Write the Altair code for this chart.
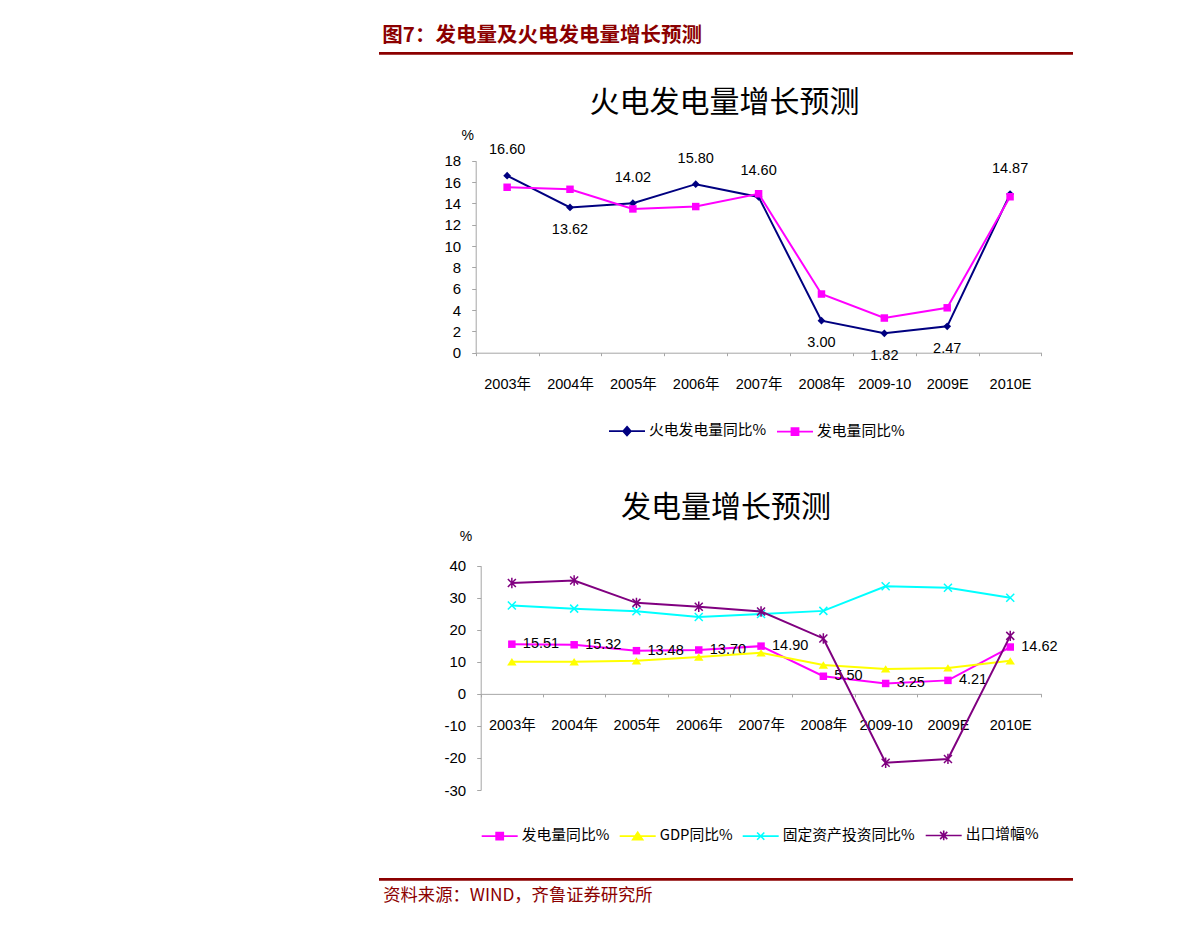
import altair as alt
import pandas as pd

# ---------------- data ----------------
categories = ["2003年", "2004年", "2005年", "2006年", "2007年", "2008年", "2009-10", "2009E", "2010E"]
thermal_yoy = [16.60, 13.62, 14.02, 15.80, 14.60, 3.00, 1.82, 2.47, 14.87]
power_yoy = [15.51, 15.32, 13.48, 13.70, 14.90, 5.50, 3.25, 4.21, 14.62]
gdp_yoy = [10.0, 10.0, 10.3, 11.5, 12.8, 9.0, 7.8, 8.1, 10.3]
fai_yoy = [27.6, 26.6, 25.8, 24.0, 24.9, 25.9, 33.6, 33.1, 30.0]
export_growth = [34.6, 35.4, 28.4, 27.2, 25.7, 17.3, -21.5, -20.3, 18.1]

series1_names = ["火电发电量同比%", "发电量同比%"]
series2_names = ["发电量同比%", "GDP同比%", "固定资产投资同比%", "出口增幅%"]

header_text = "图7：发电量及火电发电量增长预测"
title1_text = "火电发电量增长预测"
title2_text = "发电量增长预测"
source_text = "资料来源：WIND，齐鲁证券研究所"
unit_text = "%"

y1_ticks = [0, 2, 4, 6, 8, 10, 12, 14, 16, 18]
y2_ticks = [-30, -20, -10, 0, 10, 20, 30, 40]

# ---------------- styles ----------------
NUM_FONT = "Liberation Sans, Noto Sans CJK SC"
CJK_FONT = "Noto Sans CJK SC"
DARK_RED = "#8B0000"
AXIS_GRAY = "#A6A6A6"
W, H = 1170, 900

color_of = {
    "火电发电量同比%": "#000080",
    "发电量同比%": "#FF00FF",
    "GDP同比%": "#FFFF00",
    "固定资产投资同比%": "#00FFFF",
    "出口增幅%": "#800080",
}
marker_of = {
    "火电发电量同比%": ("M0,-1L1,0L0,1L-1,0Z", 60, True),
    "发电量同比%": ("M-1,-1H1V1H-1Z", 56, True),
    "GDP同比%": ("M0,-1L1.27,1H-1.27Z", 55, True),
    "固定资产投资同比%": ("M-1,-1L1,1M-1,1L1,-1", 64, False),
    "出口增幅%": ("M-1,-1L1,1M-1,1L1,-1M0,-1.3V1.3", 64, False),
}
legend_path_of = {
    "火电发电量同比%": "M-1,0H1M0,-0.25L0.22,0L0,0.25L-0.22,0Z",
    "发电量同比%": "M-1,0H1M-0.2,-0.2H0.2V0.2H-0.2Z",
    "GDP同比%": "M-1,0H1M0,-0.22L0.28,0.2H-0.28Z",
    "固定资产投资同比%": "M-1,0H1M-0.2,-0.2L0.2,0.2M-0.2,0.2L0.2,-0.2",
    "出口增幅%": "M-1,0H1M-0.2,-0.2L0.2,0.2M-0.2,0.2L0.2,-0.2M0,-0.27V0.27",
}

# pixel frames of the two plot areas (view coordinates)
X1_RANGE = [467.7, 1033.5]
Y1_RANGE = [344.7, 152.7]
X2_RANGE = [472.7, 1033.4]
Y2_RANGE = [782.0, 557.7]

# ---------------- tables ----------------
df1 = pd.concat([
    pd.DataFrame({"cat": categories, "series": series1_names[0], "value": thermal_yoy}),
    pd.DataFrame({"cat": categories, "series": series1_names[1], "value": power_yoy}),
], ignore_index=True)
lab1 = pd.DataFrame({"cat": categories, "value": thermal_yoy, "other": power_yoy})
lab1["side"] = ["above" if v >= o - 0.5 else "below" for v, o in zip(thermal_yoy, power_yoy)]

df2 = pd.concat([
    pd.DataFrame({"cat": categories, "series": n, "value": v})
    for n, v in zip(series2_names, [power_yoy, gdp_yoy, fai_yoy, export_growth])
], ignore_index=True)


def x_axis(offset):
    return alt.Axis(orient="bottom", offset=offset, domainColor=AXIS_GRAY, domainWidth=1,
                    tickColor=AXIS_GRAY, tickSize=3, tickBand="extent", labelPadding=22,
                    labelFont=NUM_FONT, labelFontSize=14.5, labelColor="black",
                    labelAngle=0, labelOverlap=False, grid=False, title=None)


def y_axis(values, xpos):
    return alt.Axis(orient="left", offset=-xpos, values=values, domainColor=AXIS_GRAY,
                    domainWidth=1, tickColor=AXIS_GRAY, tickSize=4, labelPadding=11,
                    labelFont=NUM_FONT, labelFontSize=15, labelColor="black",
                    labelExpr="'' + datum.value",
                    labelOverlap=False, grid=False, title=None)


def x_enc(rng, offset):
    return alt.X("cat:N", scale=alt.Scale(type="band", domain=categories, range=rng,
                                          paddingInner=0, paddingOuter=0),
                 axis=x_axis(offset), title=None)


def y_enc(dom, rng, ticks, xpos):
    return alt.Y("value:Q", scale=alt.Scale(domain=dom, range=rng, nice=False, zero=False),
                 axis=y_axis(ticks, xpos), title=None)


def series_layers(df, name, xe, ye):
    path, size, filled = marker_of[name]
    sub = df[df["series"] == name]
    line = alt.Chart(sub).mark_line(color=color_of[name], strokeWidth=2).encode(x=xe, y=ye)
    if filled:
        pts = alt.Chart(sub).mark_point(shape=path, size=size, filled=True, opacity=1,
                                        fill=color_of[name], strokeWidth=0)
    else:
        pts = alt.Chart(sub).mark_point(shape=path, size=size, filled=False, opacity=1,
                                        stroke=color_of[name], strokeWidth=1.5)
    return [line, pts.encode(x=xe, y=ye)]


def legend_layer(df, names, lx, ly):
    leg = alt.Legend(title=None, orient="none", legendX=lx, legendY=ly, direction="horizontal",
                     symbolSize=1296, symbolStrokeWidth=1.6, symbolOpacity=1,
                     labelFont=CJK_FONT, labelFontSize=14.8, labelColor="black",
                     labelOffset=3, columnPadding=6, padding=0, labelLimit=0)
    colors = [color_of[n] for n in names]
    return alt.Chart(df).transform_filter("false").mark_point(size=1296, opacity=1).encode(
        fill=alt.Fill("series:N", scale=alt.Scale(domain=names, range=colors), legend=leg),
        stroke=alt.Stroke("series:N", scale=alt.Scale(domain=names, range=colors), legend=leg),
        shape=alt.Shape("series:N", scale=alt.Scale(domain=names,
                                                    range=[legend_path_of[n] for n in names]),
                        legend=leg),
    )


# ---------------- chart 1 ----------------
x1 = x_enc(X1_RANGE, Y1_RANGE[0] - H)
y1 = y_enc([0, 18], Y1_RANGE, y1_ticks, X1_RANGE[0])

layers1 = []
for n in series1_names:
    layers1 += series_layers(df1, n, x1, y1)
lab_above = alt.Chart(lab1[lab1["side"] == "above"]).mark_text(
    font=NUM_FONT, fontSize=14.5, color="black", baseline="middle", dy=-25.5
).encode(x=x1, y=y1, text=alt.Text("value:Q", format=".2f"))
lab_below = alt.Chart(lab1[lab1["side"] == "below"]).mark_text(
    font=NUM_FONT, fontSize=14.5, color="black", baseline="middle", dy=22.5
).encode(x=x1, y=y1, text=alt.Text("value:Q", format=".2f"))
layers1 += [lab_above, lab_below, legend_layer(df1, series1_names, 600, 404)]
chart1 = alt.layer(*layers1)

# ---------------- chart 2 ----------------
y2_zero_px = Y2_RANGE[0] + (0 - (-30)) / (40 - (-30)) * (Y2_RANGE[1] - Y2_RANGE[0])
x2 = x_enc(X2_RANGE, y2_zero_px - H)
y2 = y_enc([-30, 40], Y2_RANGE, y2_ticks, X2_RANGE[0])

layers2 = []
for i, n in enumerate(series2_names):
    layers2 += series_layers(df2, n, x2, y2)
    if i == 0:
        layers2.append(
            alt.Chart(df2[df2["series"] == n]).mark_text(
                font=NUM_FONT, fontSize=14.5, color="black", align="left",
                baseline="middle", dx=11
            ).encode(x=x2, y=y2, text=alt.Text("value:Q", format=".2f"))
        )
layers2.append(legend_layer(df2, series2_names, 472.7, 808))
chart2 = alt.layer(*layers2)

# ---------------- page decorations ----------------
def deco_text(txt, x, y, size, color="black", weight="normal", align="left", font=CJK_FONT):
    return alt.Chart(pd.DataFrame({"t": [txt]})).mark_text(
        align=align, baseline="middle", font=font, fontSize=size, fontWeight=weight, color=color
    ).encode(text="t:N", x=alt.value(x), y=alt.value(y))


def deco_rule(x0, x1, y, color, width):
    return alt.Chart(pd.DataFrame({"t": [0]})).mark_rule(color=color, strokeWidth=width).encode(
        x=alt.value(x0), x2=alt.value(x1), y=alt.value(y))


deco = alt.layer(
    deco_text(header_text, 374.3, 28, 20.5, DARK_RED, "bold"),
    deco_rule(371, 1065, 45.3, DARK_RED, 2.7),
    deco_text(title1_text, 716.5, 95, 30, align="center"),
    deco_text(unit_text, 459.7, 127.7, 14, align="center", font=NUM_FONT),
    deco_text(title2_text, 718, 500, 30, align="center"),
    deco_text(unit_text, 458, 529, 14, align="center", font=NUM_FONT),
    deco_rule(371, 1065, 871.3, DARK_RED, 2.7),
    deco_text(source_text, 375.3, 888, 17.3, DARK_RED),
)

chart = alt.layer(chart1, chart2, deco).resolve_scale(
    x="independent", y="independent", fill="independent", stroke="independent",
    shape="independent"
).properties(
    width=W, height=H, padding=0, autosize=alt.AutoSizeParams(type="none"),
    background="white"
).configure_view(strokeWidth=0)

chart.save("out.html", embed_options={"renderer": "svg", "actions": False})
